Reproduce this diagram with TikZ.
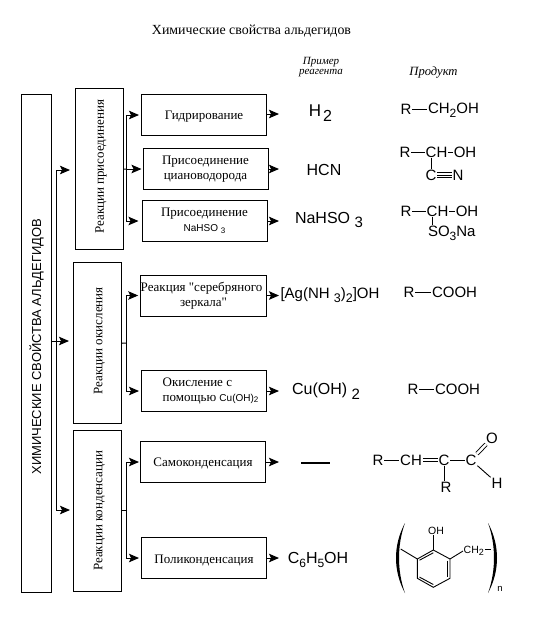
\documentclass[tikz,border=0pt]{standalone}
\usepackage{fontspec}
\setmainfont{Liberation Serif}
\setsansfont{Liberation Sans}
\newfontfamily\plainserif{Liberation Serif}
\usetikzlibrary{arrows.meta}
\newcommand{\lowidx}[3]{\raisebox{-#1pt}{\fontsize{#2}{#2}\selectfont #3}}
\tikzset{
  itembox/.style = {draw, line width=1pt, inner sep=0pt, minimum width=125pt, minimum height=41pt, align=center, font=\fontsize{13}{15}\selectfont, execute at begin node={\rule{0pt}{12.5pt}}},
  grpbox/.style = {draw, line width=1pt, inner sep=0pt, rotate=90, minimum width=161pt, minimum height=48pt, font=\fontsize{13}{15}\selectfont, execute at begin node={\rule{0pt}{12.5pt}}},
  link/.style = {line width=1pt},
  arr/.style = {line width=1pt, -{Stealth[length=10pt,width=8.5pt,inset=2pt]}},
  chem/.style = {inner sep=0.8pt, font=\sffamily\fontsize{15}{18}\selectfont},
  reag/.style = {inner sep=0pt, font=\sffamily\fontsize{16}{18}\selectfont},
  bond/.style = {line width=0.9pt},
  hdr/.style = {inner sep=0pt, align=center, font=\itshape\fontsize{11}{10.5}\selectfont}
}
\begin{document}
\begin{tikzpicture}[x=1pt, y=-1pt]
\useasboundingbox (0,0) rectangle (543,643);
\node[inner sep=0pt, font=\fontsize{13.9}{15}\selectfont] (title) at (251.5,31.5) {Химические свойства альдегидов};
\node[hdr] (hdrreag) at (321,67) {Пример\\реагента};
\node[hdr, font=\itshape\fontsize{12.6}{13}\selectfont] (hdrprod) at (433.5,72) {Продукт};

% left column
\node[draw, line width=1pt, inner sep=0pt, rotate=90, minimum width=497.5pt, minimum height=30pt, font=\sffamily\fontsize{13}{16}\selectfont] (props) at (36.5,343.25) {ХИМИЧЕСКИЕ СВОЙСТВА АЛЬДЕГИДОВ\hspace*{7pt}};
\node[grpbox] (grpadd) at (99,169.25) {\hspace*{5pt}Реакции присоединения};
\node[grpbox] (grpoxi) at (97.5,343.25) {\hspace*{5pt}Реакции окисления};
\node[grpbox] (grpcon) at (97.5,510.75) {Реакции конденсации};

% reactions
\node[itembox] (hydro) at (204,115) {Гидрирование};
\node[itembox] (hcnadd) at (205.5,169) {Присоединение\\циановодорода};
\node[itembox] (bisadd) at (204.5,221) {Присоединение\\{\sffamily\fontsize{10}{12}\selectfont NaHSO \lowidx{1.5}{8}{3}}};
\node[itembox] (silver) at (203.5,295.5) {{\plainserif Реакция "серебряного}\hspace*{4pt}\\{\plainserif зеркала"}};
\node[itembox, align=left] (cuoxi) at (204,391) {\hspace*{13pt}Окисление с\\\hspace*{13pt}помощью {\sffamily\fontsize{10}{12}\selectfont Cu(OH)\lowidx{1}{8}{2}}};
\node[itembox] (selfcon) at (203,462) {Самоконденсация};
\node[itembox] (polycon) at (204,558) {Поликонденсация};

% connectors
\coordinate (jprops) at (56.5,341);
\coordinate (tipadd) at (70,170);
\coordinate (tipoxi) at (69,341);
\coordinate (tipcon) at (70,510);
\draw[link] (props.south |- jprops) -- (jprops);
\draw[arr] (jprops) |- (tipadd);
\draw[arr] (jprops) -- (tipoxi);
\draw[arr] (jprops) |- (tipcon);

\coordinate (jadd) at (126.5,169);
\coordinate (joxi) at (126.5,343);
\coordinate (jcon) at (126.5,510.75);
\draw[link] (grpadd.south) -- (jadd);
\draw[arr, shorten >=2pt] (jadd) |- (hydro.west);
\draw[arr, shorten >=1pt] (jadd) -- (hcnadd.west);
\draw[arr, shorten >=3pt] (jadd) |- (bisadd.west);
\draw[link] (grpoxi.south) -- (joxi);
\draw[arr, shorten >=2pt] (joxi) |- (silver.west);
\draw[arr, shorten >=2pt] (joxi) |- (cuoxi.west);
\draw[link] (grpcon.south) -- (jcon);
\draw[arr, shorten >=1pt] (jcon) |- (selfcon.west);
\draw[arr, shorten >=2pt] (jcon) |- (polycon.west);

\coordinate (tiphydro) at (279,114);
\coordinate (tiphcn) at (279,169);
\coordinate (tipbis) at (279,221);
\coordinate (tipsilver) at (279,295.5);
\coordinate (tipcu) at (279,391);
\coordinate (tipself) at (279,462);
\coordinate (tippoly) at (279,558);
\draw[arr] (hydro.east |- tiphydro) -- (tiphydro);
\draw[arr] (hcnadd.east) -- (tiphcn);
\draw[arr] (bisadd.east) -- (tipbis);
\draw[arr] (silver.east) -- (tipsilver);
\draw[arr] (cuoxi.east) -- (tipcu);
\draw[arr] (selfcon.east) -- (tipself);
\draw[arr] (polycon.east) -- (tippoly);

% reagents
\node[reag, font=\sffamily\fontsize{17}{18}\selectfont] (rhydro) at (320.5,113) {H\hspace{2pt}\lowidx{5}{16}{2}};
\node[reag] (rhcn) at (324,170) {HCN};
\node[reag] (rbis) at (329,220) {NaHSO \lowidx{4}{15}{3}};
\node[reag, font=\sffamily\fontsize{15}{18}\selectfont] (rsilver) at (330,295) {[Ag(NH \lowidx{4}{12.5}{3})\lowidx{4}{12.5}{2}]OH};
\node[reag] (rcu) at (326,391) {Cu(OH) \lowidx{5}{15}{2}};
\coordinate (dasha) at (301,463);
\coordinate (dashb) at (330,463);
\draw[line width=1.6pt] (dasha) -- (dashb);
\node[reag] (rpoly) at (318,560) {C\lowidx{4}{12}{6}H\lowidx{4}{12}{5}OH};

% products
\node[chem] (pr1) at (406,109) {R};
\node[chem, anchor=west] (pa1) at (427,110) {CH\lowidx{4}{12}{2}OH};
\draw[bond] (pr1) -- (pa1.west |- pr1);

\node[chem] (pr2) at (405,152) {R};
\node[chem] (pc2) at (431,152) {C};
\node[chem] (ph2) at (442,152) {H};
\node[chem] (po2) at (465,152) {OH};
\node[chem] (pd2) at (431,175) {C};
\node[chem] (pn2) at (458,175) {N};
\draw[bond] (pr2) -- (pc2);
\draw[bond] (ph2) -- (po2);
\draw[bond] (pc2) -- (pd2);
\draw[bond, double, double distance=3.6pt, line width=0.8pt] (pd2) -- (pn2);
\draw[line width=0.8pt] (pd2) -- (pn2);

\node[chem] (pr3) at (406,211) {R};
\node[chem] (pc3) at (432,211) {C};
\node[chem] (ph3) at (443,211) {H};
\node[chem] (po3) at (467,211) {OH};
\node[chem, anchor=west] (ps3) at (427,233) {SO\lowidx{4}{12}{3}Na};
\draw[bond] (pr3) -- (pc3);
\draw[bond] (ph3) -- (po3);
\draw[bond] (pc3) -- (pc3 |- ps3.north);

\node[chem] (pr4) at (409,292) {R};
\node[chem, anchor=west] (pa4) at (431,292) {COOH};
\draw[bond] (pr4) -- (pa4);

\node[chem] (pr5) at (413,389) {R};
\node[chem, anchor=west] (pa5) at (434,389) {COOH};
\draw[bond] (pr5) -- (pa5);

\node[chem] (pr6) at (378,460) {R};
\node[chem] (pm6) at (411,460) {CH};
\node[chem] (pc6) at (444,460) {C};
\node[chem] (pd6) at (471,460) {C};
\node[chem] (pb6) at (446,487) {R};
\node[chem] (po6) at (492,438) {O};
\node[chem] (ph6) at (497,483) {H};
\draw[bond] (pr6) -- (pm6);
\draw[bond, double, double distance=2.5pt] (pm6) -- (pc6);
\draw[bond] (pc6) -- (pd6);
\draw[bond] (pc6) -- (pc6 |- pb6.north);
\draw[bond, double, double distance=2.5pt] (pd6) -- (po6);
\draw[bond] (pd6) -- (ph6);

% phenol ring
\coordinate (ra) at (433.3,550);
\coordinate (rb) at (450,559);
\coordinate (rc) at (450,578.3);
\coordinate (rd) at (433.3,587.3);
\coordinate (re) at (417.3,578.3);
\coordinate (rf) at (417.3,559);
\draw[bond] (ra) -- (rb) -- (rc) -- (rd) -- (re) -- (rf) -- cycle;
\draw[bond] (419.5,560.2) -- (433.3,552.8);
\draw[bond] (447.6,560.5) -- (447.6,576.8);
\draw[bond] (419.5,577.1) -- (433.3,584.5);
\node[inner sep=0.5pt, font=\sffamily\fontsize{10.5}{12}\selectfont] (poh) at (436,531) {OH};
\node[inner sep=0.5pt, font=\sffamily\fontsize{10.5}{12}\selectfont, anchor=west] (pch) at (463,551) {CH\lowidx{2.5}{9}{2}};
\coordinate (stub) at (400.7,549);
\coordinate (tail) at (491,549);
\draw[bond] (ra) -- (ra |- poh.south);
\draw[bond] (rb) -- (pch.west);
\draw[bond] (rf) -- (stub);
\draw[bond] (pch.east |- tail) -- (tail);
\fill (405,523) .. controls (393,545) and (393,571) .. (405,593) .. controls (397,571) and (397,545) .. (405,523);
\fill (488,523) .. controls (500,545) and (500,571) .. (488,593) .. controls (496,571) and (496,545) .. (488,523);
\node[inner sep=0pt, font=\sffamily\fontsize{9.5}{11}\selectfont] (pidx) at (500,589) {n};
\end{tikzpicture}
\end{document}
